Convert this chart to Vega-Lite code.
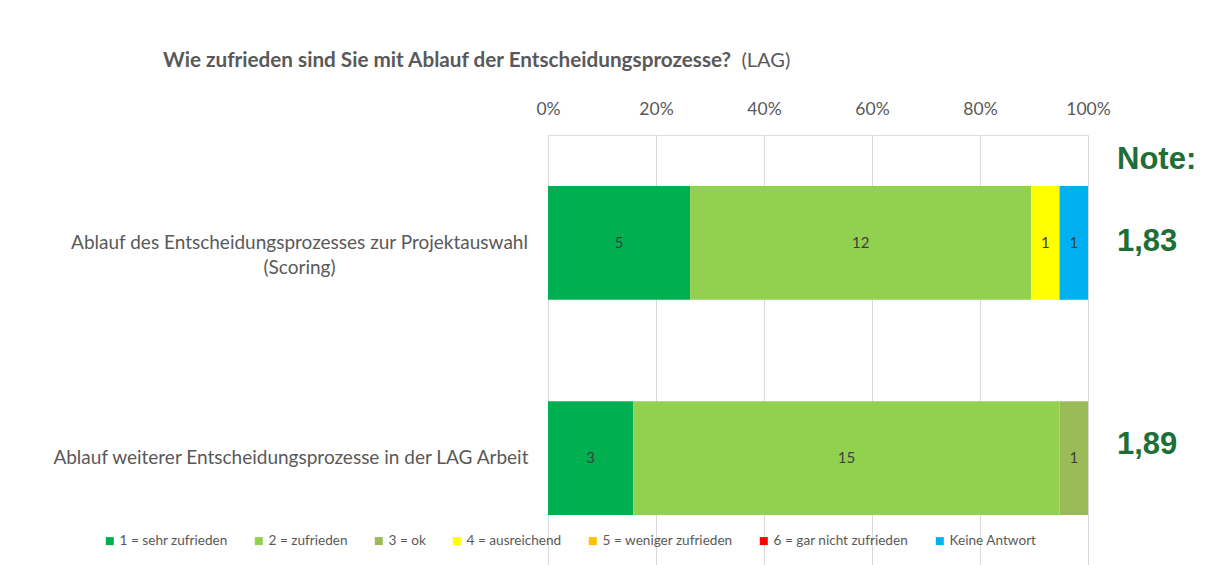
{
  "$schema": "https://vega.github.io/schema/vega-lite/v6.json",
  "width": 540,
  "height": 431,
  "autosize": {"type": "none"},
  "padding": {"left": 548, "top": 135, "right": 120, "bottom": 0},
  "background": "white",
  "title": {
    "text": "Wie zufrieden sind Sie mit Ablauf der Entscheidungsprozesse?",
    "anchor": "start",
    "frame": "group",
    "dx": -385,
    "dy": 52,
    "offset": 30,
    "font": "Lato",
    "fontSize": 20.7,
    "fontWeight": "bold",
    "color": "#595959"
  },
  "datasets": {
    "antworten": [
      {"frage": "Ablauf des Entscheidungsprozesses zur Projektauswahl (Scoring)", "antwort": "1 = sehr zufrieden", "anzahl": 5},
      {"frage": "Ablauf des Entscheidungsprozesses zur Projektauswahl (Scoring)", "antwort": "2 = zufrieden", "anzahl": 12},
      {"frage": "Ablauf des Entscheidungsprozesses zur Projektauswahl (Scoring)", "antwort": "4 = ausreichend", "anzahl": 1},
      {"frage": "Ablauf des Entscheidungsprozesses zur Projektauswahl (Scoring)", "antwort": "Keine Antwort", "anzahl": 1},
      {"frage": "Ablauf weiterer Entscheidungsprozesse in der LAG Arbeit", "antwort": "1 = sehr zufrieden", "anzahl": 3},
      {"frage": "Ablauf weiterer Entscheidungsprozesse in der LAG Arbeit", "antwort": "2 = zufrieden", "anzahl": 15},
      {"frage": "Ablauf weiterer Entscheidungsprozesse in der LAG Arbeit", "antwort": "3 = ok", "anzahl": 1}
    ],
    "noten": [
      {"frage": "Ablauf des Entscheidungsprozesses zur Projektauswahl (Scoring)", "note": "1,83"},
      {"frage": "Ablauf weiterer Entscheidungsprozesse in der LAG Arbeit", "note": "1,89"}
    ],
    "kopf": [
      {"frage": "Ablauf des Entscheidungsprozesses zur Projektauswahl (Scoring)", "note": "Note:"}
    ]
  },
  "encoding": {
    "y": {
      "field": "frage",
      "type": "nominal",
      "sort": null,
      "scale": {"paddingInner": 0.471, "paddingOuter": 0.237},
      "axis": {
        "title": null,
        "domain": false,
        "ticks": false,
        "labelFont": "Lato",
        "labelFontSize": 19,
        "labelColor": "#595959",
        "labelLimit": 600,
        "labelLineHeight": 25,
        "labelBaseline": "middle",
        "labelExpr": "datum.label == 'Ablauf des Entscheidungsprozesses zur Projektauswahl (Scoring)' ? ['Ablauf des Entscheidungsprozesses zur Projektauswahl', '(Scoring)'] : datum.label",
        "labelAlign": {"condition": {"test": "indexof(datum.value, 'Scoring') >= 0", "value": "center"}, "value": "right"},
        "labelPadding": {"condition": {"test": "indexof(datum.value, 'Scoring') >= 0", "value": 249}, "value": 20}
      }
    }
  },
  "layer": [
    {
      "data": {"name": "antworten"},
      "mark": {"type": "bar"},
      "encoding": {
        "x": {
          "field": "anzahl",
          "type": "quantitative",
          "stack": "normalize",
          "scale": {"domain": [0, 1]},
          "axis": {
            "orient": "top",
            "values": [0, 0.2, 0.4, 0.6, 0.8, 1],
            "format": ".0%",
            "domain": false,
            "ticks": false,
            "grid": true,
            "gridColor": "#D9D9D9",
            "gridWidth": 1,
            "labelFont": "Lato",
            "labelFontSize": 17.5,
            "labelColor": "#595959",
            "labelPadding": 17,
            "labelFlush": false,
            "title": "(LAG)",
            "titleFont": "Lato",
            "titleFontSize": 20,
            "titleFontWeight": "normal",
            "titleColor": "#595959",
            "titleX": 193,
            "titleY": -75,
            "titleAlign": "left",
            "titleBaseline": "middle",
            "titleAngle": 0
          }
        },
        "order": {"field": "antwort", "type": "ordinal"},
        "color": {
          "field": "antwort",
          "type": "nominal",
          "scale": {
            "domain": ["1 = sehr zufrieden", "2 = zufrieden", "3 = ok", "4 = ausreichend", "5 = weniger zufrieden", "6 = gar nicht zufrieden", "Keine Antwort"],
            "range": ["#00B050", "#92D050", "#9BBB59", "#FFFF00", "#FFC000", "#FF0000", "#00B0F0"]
          },
          "legend": {
            "title": null,
            "orient": "none",
            "direction": "horizontal",
            "legendX": -445,
            "legendY": 399,
            "symbolType": "square",
            "symbolSize": 64,
            "symbolStrokeWidth": 0,
            "labelFont": "Lato",
            "labelFontSize": 13.6,
            "labelColor": "#595959",
            "labelOffset": 3,
            "columnPadding": 24
          }
        }
      }
    },
    {
      "data": {"name": "antworten"},
      "mark": {"type": "text", "font": "Lato", "fontSize": 15, "color": "#404040", "baseline": "middle"},
      "encoding": {
        "x": {"field": "anzahl", "type": "quantitative", "stack": "normalize", "bandPosition": 0.5},
        "detail": {"field": "antwort", "type": "nominal"},
        "order": {"field": "antwort", "type": "ordinal"},
        "text": {"field": "anzahl", "type": "quantitative"}
      }
    },
    {
      "data": {"name": "noten"},
      "mark": {"type": "text", "font": "Liberation Sans", "fontSize": 31, "fontWeight": "bold", "color": "#1E6E37", "align": "left", "baseline": "middle", "dx": 29, "dy": {"expr": "datum.note == '1,89' ? -13 : -1"}},
      "encoding": {
        "x": {"datum": 1, "type": "quantitative"},
        "text": {"field": "note"}
      }
    },
    {
      "data": {"name": "kopf"},
      "mark": {"type": "text", "font": "Liberation Sans", "fontSize": 31, "fontWeight": "bold", "color": "#1E6E37", "align": "left", "baseline": "middle", "dx": 29, "dy": -83},
      "encoding": {
        "x": {"datum": 1, "type": "quantitative"},
        "text": {"field": "note"}
      }
    }
  ]
}
